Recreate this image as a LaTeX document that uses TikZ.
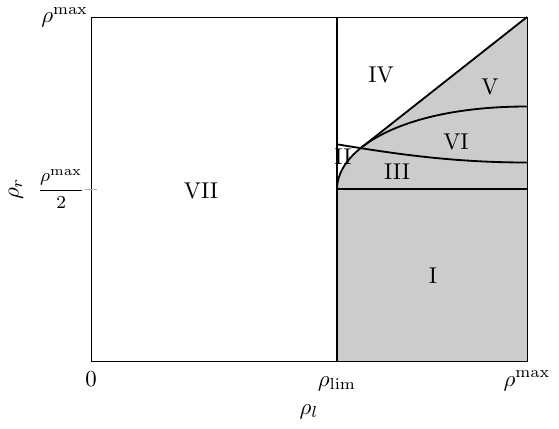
\documentclass[tikz,border=0pt]{standalone}
\usepackage{amsmath}
\usepackage{amssymb}
\usepackage{xcolor}
\usetikzlibrary{calc}

\tikzset{
  bound/.style={thick},
  regionlbl/.style={},
  ticklbl/.style={anchor=base}
}

\begin{document}
\begin{tikzpicture}[x=0.438pt, y=-0.438pt]
  \useasboundingbox (0,0) rectangle (559,428);

  \coordinate (O)   at (91,361);
  \coordinate (TL)  at (91,17);
  \coordinate (TR)  at (527,17);
  \coordinate (BR)  at (527,361);
  \coordinate (L0)  at (337,361);
  \coordinate (LT)  at (337,17);
  \coordinate (LM)  at (337,189);
  \coordinate (RM)  at (527,189);
  \coordinate (X)   at (360.2,148.46);
  \coordinate (Q0)  at (337,144.3);
  \coordinate (Q1)  at (527,162.5);
  \coordinate (S1)  at (527,106.5);

  % grey part
  \fill[black!20] (L0) -- (LM) .. controls (337,175.35) and (344.72,161.06) .. (X)
    -- (TR) -- (BR) -- cycle;

  % box and tick
  \draw[thin] (O) rectangle (TR);
  \draw[black!30] (85,189) -- (97,189);

  % boundaries
  \draw[bound] (L0) -- (LT);
  \draw[bound] (LM) -- (RM);
  \draw[bound] (X) -- (TR);
  \draw[bound] (LM) .. controls (337,175.35) and (344.72,161.06) .. (X)
    .. controls (388.94,125.06) and (444.45,106.5) .. (S1);
  \draw[bound] (Q0) .. controls (390,153) and (450,162.5) .. (Q1);

  % regions
  \node[regionlbl] (r1) at (433,276) {I};
  \node[regionlbl] (r2) at (343,157) {II};
  \node[regionlbl] (r3) at (397,172) {III};
  \node[regionlbl] (r4) at (381,75) {IV};
  \node[regionlbl] (r5) at (490,87) {V};
  \node[regionlbl] (r6) at (456,142) {VI};
  \node[regionlbl] (r7) at (201,191) {VII};

  % ticks
  \node[ticklbl] (t0)   at (91,386)  {$0$};
  \node[ticklbl] (tlim) at (337,386) {$\rho_{\lim}$};
  \node[ticklbl] (tmax) at (527,386) {$\rho^{\max}$};
  \node[left] (ymax)  at (96,17)  {$\rho^{\max}$};
  \node[left, font=\footnotesize] (yhalf) at (93,189) {$\dfrac{\rho^{\max}}{2}$};

  % axis labels
  \node[anchor=base] (xl) at (309,414) {$\rho_l$};
  \node[rotate=90] (yl) at (16,189) {$\rho_r$};
\end{tikzpicture}
\end{document}
